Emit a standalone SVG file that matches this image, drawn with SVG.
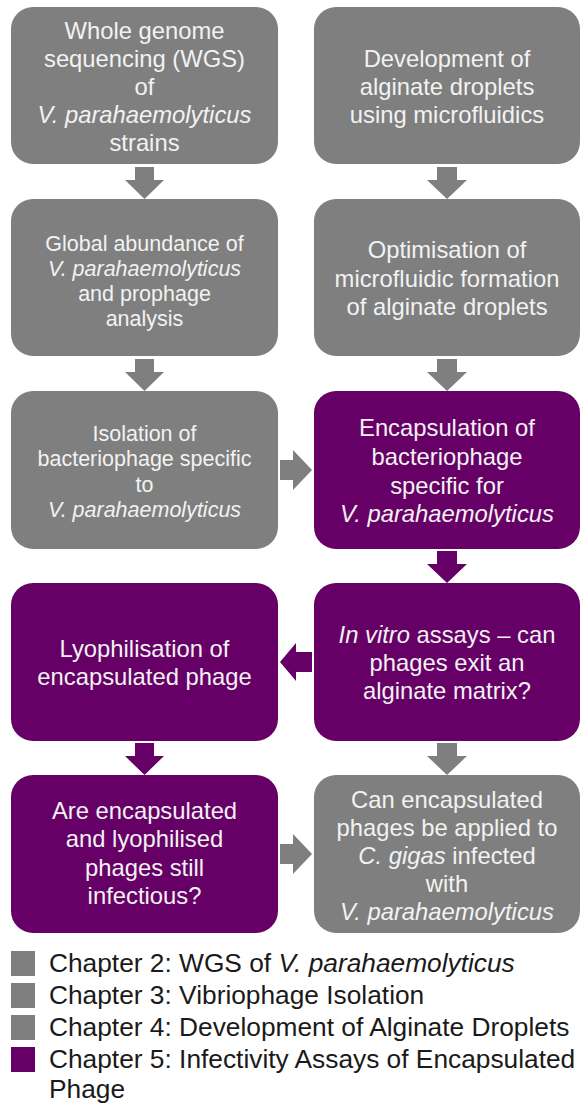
<svg xmlns="http://www.w3.org/2000/svg" width="584" height="1105" viewBox="0 0 584 1105">
<style>
.g{fill:#7f7f7f}
.p{fill:#660066}
.t{font-family:"Liberation Sans",Arial,sans-serif;font-size:23.8px;fill:#f2f2f2;text-anchor:middle}
.s{font-size:21.5px}
.i{font-style:italic}
.lg{font-family:"Liberation Sans",Arial,sans-serif;font-size:26.3px;fill:#1a1a1a}
</style>
<rect width="584" height="1105" fill="#ffffff"/>
<g id="connectors">
  <path class="g" d="M135 167H154V180H164L144.5 199L125 180H135Z"/>
  <path class="g" d="M437 167H457V180H467L447 199L427 180H437Z"/>
  <path class="g" d="M135 359H154V372H164L144.5 391L125 372H135Z"/>
  <path class="g" d="M437 359H457V372H467L447 391L427 372H437Z"/>
  <path class="g" d="M280 460V480H293V490L312 470L293 450V460Z"/>
  <path class="p" d="M437 551H457V564H467L447 583L427 564H437Z"/>
  <path class="p" d="M312 652V672H296V681L280 662L296 643V652Z"/>
  <path class="p" d="M135 743H154V756H164L144.5 775L125 756H135Z"/>
  <path class="g" d="M437 743H457V756H467L447 775L427 756H437Z"/>
  <path class="g" d="M280 844V864H293V874L312 854L293 834V844Z"/>
</g>
<g id="n1"><rect class="g" x="11" y="7" width="267" height="157" rx="22"/>
<text class="t" x="144.5" y="39">Whole genome</text>
<text class="t" x="144.5" y="67">sequencing (WGS)</text>
<text class="t" x="144.5" y="95">of</text>
<text class="t i" x="144.5" y="123">V. parahaemolyticus</text>
<text class="t" x="144.5" y="151">strains</text></g>
<g id="n2"><rect class="g" x="314" y="7" width="266" height="157" rx="22"/>
<text class="t" x="447" y="67">Development of</text>
<text class="t" x="447" y="95">alginate droplets</text>
<text class="t" x="447" y="123">using microfluidics</text></g>
<g id="n3"><rect class="g" x="11" y="199" width="267" height="157" rx="22"/>
<text class="t s" x="144.5" y="251">Global abundance of</text>
<text class="t s i" x="144.5" y="276">V. parahaemolyticus</text>
<text class="t s" x="144.5" y="301">and prophage</text>
<text class="t s" x="144.5" y="326">analysis</text></g>
<g id="n4"><rect class="g" x="314" y="199" width="266" height="157" rx="22"/>
<text class="t" x="447" y="258">Optimisation of</text>
<text class="t" x="447" y="287">microfluidic formation</text>
<text class="t" x="447" y="315">of alginate droplets</text></g>
<g id="n5"><rect class="g" x="11" y="391" width="267" height="158" rx="22"/>
<text class="t s" x="144.5" y="441">Isolation of</text>
<text class="t s" x="144.5" y="466">bacteriophage specific</text>
<text class="t s" x="144.5" y="492">to</text>
<text class="t s i" x="144.5" y="517">V. parahaemolyticus</text></g>
<g id="n6"><rect class="p" x="314" y="391" width="266" height="158" rx="22"/>
<text class="t" x="447" y="436">Encapsulation of</text>
<text class="t" x="447" y="465">bacteriophage</text>
<text class="t" x="447" y="494">specific for</text>
<text class="t i" x="447" y="522">V. parahaemolyticus</text></g>
<g id="n7"><rect class="p" x="11" y="583" width="267" height="158" rx="22"/>
<text class="t" x="144.5" y="657">Lyophilisation of</text>
<text class="t" x="144.5" y="685">encapsulated phage</text></g>
<g id="n8"><rect class="p" x="314" y="583" width="266" height="158" rx="22"/>
<text class="t" x="447" y="643"><tspan class="i">In vitro</tspan> assays – can</text>
<text class="t" x="447" y="671">phages exit an</text>
<text class="t" x="447" y="699">alginate matrix?</text></g>
<g id="n9"><rect class="p" x="11" y="775" width="267" height="158" rx="22"/>
<text class="t" x="144.5" y="819">Are encapsulated</text>
<text class="t" x="144.5" y="847">and lyophilised</text>
<text class="t" x="144.5" y="876">phages still</text>
<text class="t" x="144.5" y="904">infectious?</text></g>
<g id="n10"><rect class="g" x="314" y="775" width="266" height="158" rx="22"/>
<text class="t" x="447" y="808">Can encapsulated</text>
<text class="t" x="447" y="836">phages be applied to</text>
<text class="t" x="447" y="864"><tspan class="i">C. gigas</tspan> infected</text>
<text class="t" x="447" y="892">with</text>
<text class="t i" x="447" y="920">V. parahaemolyticus</text></g>
<g id="legend">
<rect class="g" x="11" y="951" width="24" height="25"/>
<rect class="g" x="11" y="983" width="24" height="25"/>
<rect class="g" x="11" y="1015" width="24" height="25"/>
<rect class="p" x="11" y="1047" width="24" height="25"/>
<text class="lg" x="49" y="972">Chapter 2: WGS of <tspan class="i">V. parahaemolyticus</tspan></text>
<text class="lg" x="49" y="1004">Chapter 3: Vibriophage Isolation</text>
<text class="lg" x="49" y="1036">Chapter 4: Development of Alginate Droplets</text>
<text class="lg" x="49" y="1068">Chapter 5: Infectivity Assays of Encapsulated</text>
<text class="lg" x="49" y="1098">Phage</text>
</g>
</svg>
